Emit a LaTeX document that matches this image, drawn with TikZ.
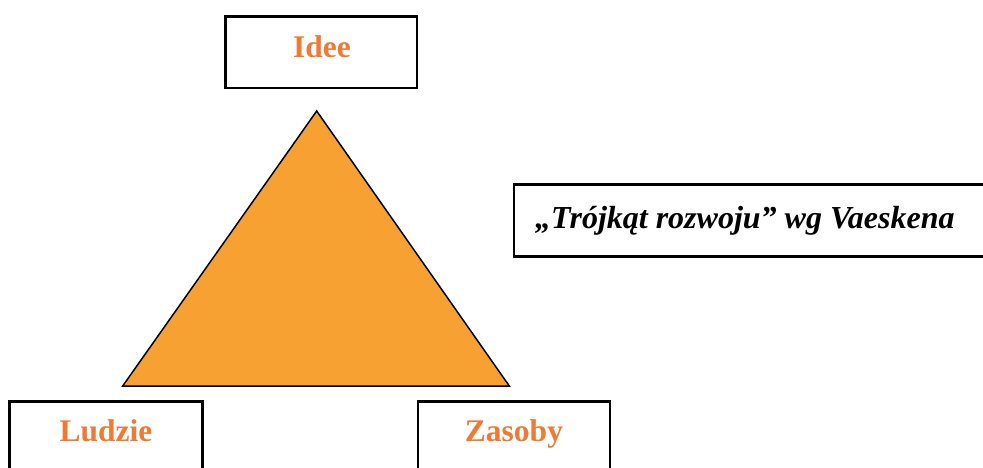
\documentclass[tikz,border=0pt]{standalone}
\usepackage{fontspec}
\setmainfont{Liberation Serif}
\definecolor{lbl}{RGB}{241,121,50}
\definecolor{tri}{RGB}{247,161,51}
\begin{document}
\begin{tikzpicture}[x=1pt,y=-1pt,
  boxstyle/.style={draw=black,line width=2.2pt,fill=white},
  lbltext/.style={text=lbl,font=\fontsize{31.5}{36}\selectfont\bfseries,inner sep=0pt,anchor=base},
  ttltext/.style={text=black,font=\fontsize{32}{36}\selectfont\bfseries\itshape,inner sep=0pt,anchor=base west}]
\useasboundingbox (0,0) rectangle (983,468);
\clip (0,0) rectangle (983,468);
\fill[white] (0,0) rectangle (983,468);
% triangle
\coordinate (apex) at (316.7,111);
\coordinate (bl) at (122.7,386);
\coordinate (br) at (509.3,386);
\draw[fill=tri,line width=1.5pt,line join=miter] (apex) -- (bl) -- (br) -- cycle;
% boxes
\draw[boxstyle] (225.5,16.5) rectangle (417,88) node[midway,draw=none] (ideebox) {};
\draw[boxstyle] (514,184.5) rectangle (1000,256.5) node[midway,draw=none] (titlebox) {};
\draw[boxstyle] (9.5,401.5) rectangle (202.5,480) node[midway,draw=none] (ludziebox) {};
\draw[boxstyle] (418,401.5) rectangle (610,480) node[midway,draw=none] (zasobybox) {};
% texts
\node[lbltext] (idee) at (322,57.7) {Idee};
\node[lbltext] (ludzie) at (106,441.7) {Ludzie};
\node[lbltext] (zasoby) at (514,441.7) {Zasoby};
\node[ttltext] (title) at (535,228.3) {„Trójkąt rozwoju” wg Vaeskena};
\end{tikzpicture}
\end{document}
